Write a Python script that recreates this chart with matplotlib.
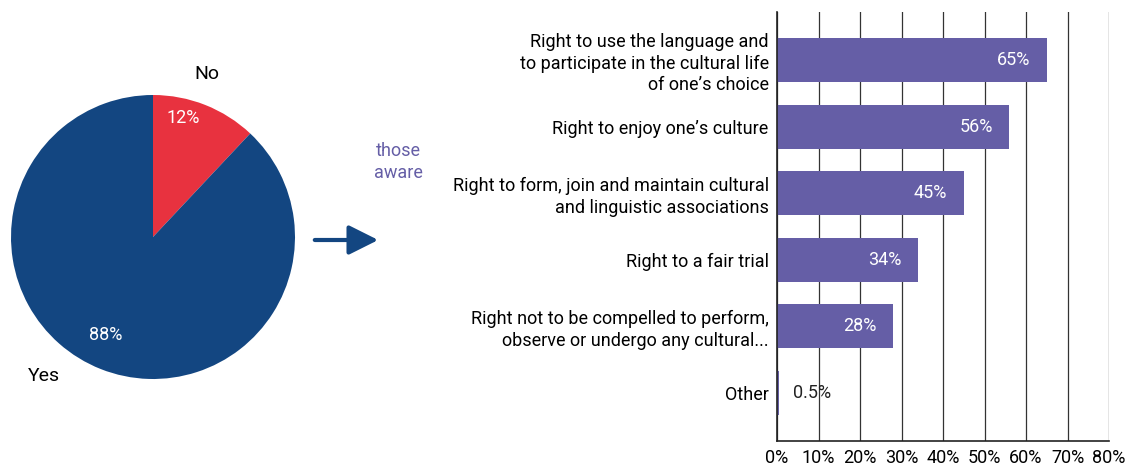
import matplotlib.pyplot as plt
from matplotlib import font_manager

# aware / not aware
pie_labels = ['No', 'Yes']
pie_values = [12, 88]
pie_colors = ['#E8323F', '#134681']

# rights known by those aware
rights = [
    'Right to use the language and\nto participate in the cultural life\nof one\u2019s choice',
    'Right to enjoy one\u2019s culture',
    'Right to form, join and maintain cultural\nand linguistic associations',
    'Right to a fair trial',
    'Right not to be compelled to perform,\nobserve or undergo any cultural...',
    'Other',
]
shares = [65, 56, 45, 34, 28, 0.5]
share_labels = ['65%', '56%', '45%', '34%', '28%', '0.5%']
x_ticks = [0, 10, 20, 30, 40, 50, 60, 70, 80]

bar_color = '#655EA6'

names = {f.name for f in font_manager.fontManager.ttflist}
fam = 'Liberation Sans Narrow' if 'Liberation Sans Narrow' in names else 'Roboto'
plt.rcParams['font.family'] = [fam, 'DejaVu Sans']

W, H = 1126, 466
fig = plt.figure(figsize=(W / 100, H / 100), dpi=100)

# ---- pie ----
cx, cy, r = 153, 237, 142
pax = fig.add_axes([(cx - r) / W, (H - cy - r) / H, 2 * r / W, 2 * r / H])
pax.pie(pie_values, colors=pie_colors, startangle=90, counterclock=False,
        radius=1, wedgeprops=dict(linewidth=0))
pax.set_xlim(-1, 1)
pax.set_ylim(-1, 1)
pax.set_aspect('equal')
pax.axis('off')
pax.text(0.38, 1.15, pie_labels[0], ha='center', va='center', fontsize=14)
pax.text(-0.77, -0.98, pie_labels[1], ha='center', va='center', fontsize=14)
pax.text(0.21, 0.84, f'{pie_values[0]}%', ha='center', va='center', fontsize=13, color='white')
pax.text(-0.33, -0.69, f'{pie_values[1]}%', ha='center', va='center', fontsize=13, color='white')

# arrow + note
fig.patches.append(plt.matplotlib.patches.FancyArrowPatch(
    (312 / W, 1 - 240 / H), (381 / W, 1 - 240 / H), transform=fig.transFigure,
    arrowstyle='-|>,head_length=0.9,head_width=0.45', mutation_scale=20,
    color='#134681', linewidth=3))
fig.text(398 / W, 1 - 162 / H, 'those\naware', ha='center', va='center',
         fontsize=13, color=bar_color, linespacing=1.3)

# ---- bars ----
x0, x1, y0, y1 = 777, 1109, 12, 441
bax = fig.add_axes([x0 / W, (H - y1) / H, (x1 - x0) / W, (y1 - y0) / H])
ypos = list(range(len(rights)))
bars = bax.barh(ypos, shares, height=0.66, color=bar_color, zorder=3)
bax.set_ylim(len(rights) - 1 + 0.72, -0.72)
bax.set_xlim(0, 80)
bax.set_xticks(x_ticks)
bax.set_xticklabels([f'{t}%' for t in x_ticks], fontsize=13)
bax.set_yticks(ypos)
bax.set_yticklabels(rights, fontsize=13, linespacing=1.25)
bax.tick_params(axis='both', length=0)
bax.tick_params(axis='y', pad=6)
bax.tick_params(axis='x', pad=6)
bax.grid(axis='x', color='#333333', linewidth=0.9, zorder=0)
for s in ['top', 'right']:
    bax.spines[s].set_visible(False)
for s in ['left', 'bottom']:
    bax.spines[s].set_color('#222222')
    bax.spines[s].set_linewidth(1.2)
    bax.spines[s].set_zorder(4)

for b, v, lab in zip(bars, shares, share_labels):
    yc = b.get_y() + b.get_height() / 2
    if v > 5:
        bax.annotate(lab, (v, yc), xytext=(-12, 0), textcoords='offset points',
                     ha='right', va='center', color='white', fontsize=13, zorder=5)
    else:
        bax.annotate(lab, (v, yc), xytext=(10, 0), textcoords='offset points',
                     ha='left', va='center', color='#222222', fontsize=13, zorder=5)

fig.savefig('out.png', dpi=100)
